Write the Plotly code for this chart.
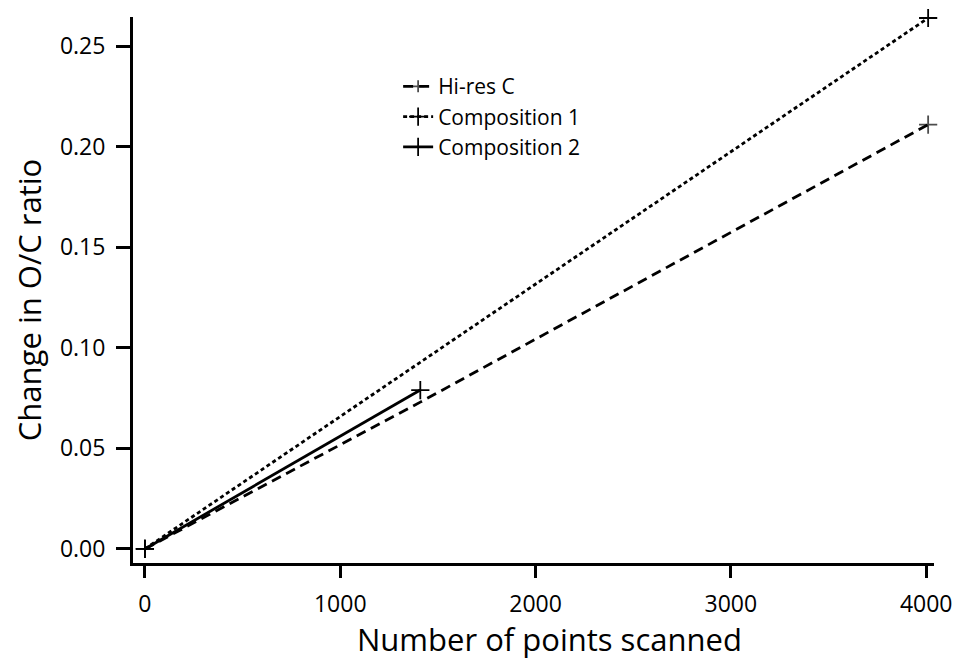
import plotly.graph_objects as go

hires_x = [0, 1410, 4010]
hires_y = [0.0, 0.073, 0.211]
comp1_x = [0, 4010]
comp1_y = [0.0, 0.264]
comp2_x = [0, 1410]
comp2_y = [0.0, 0.079]

x_ticks = [0, 1000, 2000, 3000, 4000]
y_ticks = [0.00, 0.05, 0.10, 0.15, 0.20, 0.25]

FONT = "Open Sans"
fig = go.Figure()
mk = dict(symbol="cross-thin-open", size=13, color="black", line=dict(width=1.8, color="black"))
fig.add_trace(go.Scatter(x=hires_x, y=hires_y, name="Hi-res C", mode="lines+markers",
                         line=dict(color="black", width=2.8, dash="10px,6px"),
                         marker=dict(mk, size=[13, 0, 13]), cliponaxis=False))
fig.add_trace(go.Scatter(x=comp1_x, y=comp1_y, name="Composition 1", mode="lines+markers",
                         line=dict(color="black", width=2.8, dash="4px,3px"),
                         marker=mk, cliponaxis=False))
fig.add_trace(go.Scatter(x=comp2_x, y=comp2_y, name="Composition 2", mode="lines+markers",
                         line=dict(color="black", width=2.8),
                         marker=mk, cliponaxis=False))

fig.update_layout(
    width=964, height=662,
    margin=dict(l=133, r=21, t=17, b=99),
    paper_bgcolor="white", plot_bgcolor="white",
    font=dict(family=FONT, color="black", size=23),
    showlegend=True,
    legend=dict(x=0.331, y=0.91, xanchor="left", yanchor="top",
                font=dict(size=21, family=FONT), bgcolor="rgba(0,0,0,0)",
                tracegroupgap=0),
    xaxis=dict(range=[-61, 4040], tickvals=x_ticks, ticktext=[str(v) for v in x_ticks],
               showgrid=False, zeroline=False, showline=True, linewidth=3, linecolor="black",
               ticks="outside", ticklen=12, tickwidth=3, tickcolor="black",
               tickfont=dict(size=23), ticklabelstandoff=6),
    yaxis=dict(range=[-0.007, 0.2645], tickvals=y_ticks, ticktext=["%.2f" % v for v in y_ticks],
               showgrid=False, zeroline=False, showline=True, linewidth=3, linecolor="black",
               ticks="outside", ticklen=14, tickwidth=3, tickcolor="black",
               tickfont=dict(size=23), ticklabelstandoff=6),
)
fig.add_annotation(text="Number of points scanned", xref="paper", yref="paper",
                   x=(554 - 133) / 810, y=-(639 - 563) / 546, showarrow=False,
                   font=dict(size=31, family=FONT), xanchor="center", yanchor="middle")
fig.add_annotation(text="Change in O/C ratio", xref="paper", yref="paper",
                   x=-(133 - 28) / 810, y=(563 - 300) / 546, showarrow=False, textangle=-90,
                   font=dict(size=31, family=FONT), xanchor="center", yanchor="middle")
fig.write_html("out.html")
